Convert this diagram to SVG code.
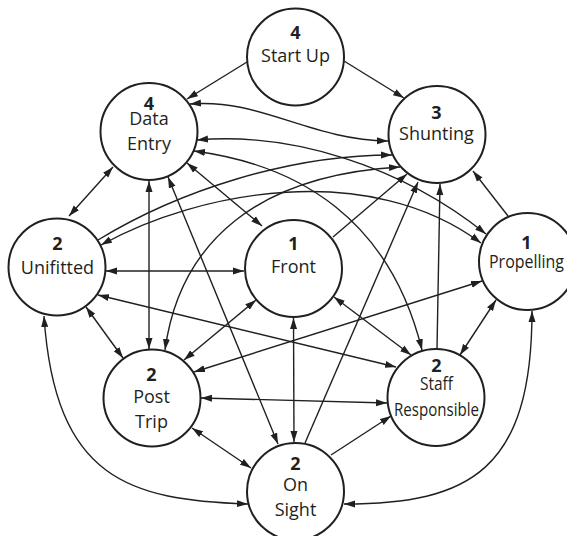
<svg xmlns="http://www.w3.org/2000/svg" width="567" height="536" viewBox="0 0 567 536">
<style>
.node circle{fill:#fff;stroke:#231f20;stroke-width:2}
.num{font-family:"Open Sans","Noto Sans",sans-serif;font-size:18px;font-weight:bold;fill:#231f20;text-anchor:middle}
.lbl{font-family:"Open Sans","Noto Sans",sans-serif;font-size:18px;fill:#231f20;text-anchor:middle}
#edges path{fill:none;stroke:#231f20;stroke-width:1.4}
.s{marker-end:url(#ah)}
.d{marker-start:url(#ah);marker-end:url(#ah)}
</style>
<defs>
<marker id="ah" markerUnits="userSpaceOnUse" markerWidth="12" markerHeight="8" refX="11" refY="4" orient="auto-start-reverse">
<path d="M0,0.5 L11,4 L0,7.5 z" fill="#231f20"/>
</marker>
</defs>
<rect width="567" height="536" fill="#fff"/>
<g id="node-startup" class="node"><circle cx="295.5" cy="57" r="48.5"/><text class="num" x="295.5" y="38.5">4</text><text class="lbl" x="295.5" y="62">Start Up</text></g>
<g id="node-dataentry" class="node"><circle cx="149" cy="131.5" r="48.5"/><text class="num" x="149" y="110">4</text><text class="lbl" x="149" y="125">Data</text><text class="lbl" x="149" y="150">Entry</text></g>
<g id="node-shunting" class="node"><circle cx="437" cy="134.5" r="48.5"/><text class="num" x="436.5" y="118.5">3</text><text class="lbl" x="436.5" y="140">Shunting</text></g>
<g id="node-unifitted" class="node"><circle cx="57" cy="267" r="48.5"/><text class="num" x="57.5" y="250">2</text><text class="lbl" x="57.5" y="274">Unifitted</text></g>
<g id="node-front" class="node"><circle cx="293.5" cy="268.5" r="48.5"/><text class="num" x="293.5" y="250">1</text><text class="lbl" x="293.5" y="272.5">Front</text></g>
<g id="node-propelling" class="node"><circle cx="527.5" cy="261.5" r="48.5"/><text class="num" x="526.5" y="249">1</text><text class="lbl" x="526.5" y="268" textLength="75" lengthAdjust="spacingAndGlyphs">Propelling</text></g>
<g id="node-staff" class="node"><circle cx="436" cy="397.5" r="48.5"/><text class="num" x="436.5" y="372">2</text><text class="lbl" x="436.5" y="390" textLength="33" lengthAdjust="spacingAndGlyphs">Staff</text><text class="lbl" x="436.5" y="416" textLength="85" lengthAdjust="spacingAndGlyphs">Responsible</text></g>
<g id="node-posttrip" class="node"><circle cx="152" cy="398" r="48.5"/><text class="num" x="151.5" y="381">2</text><text class="lbl" x="151.5" y="403">Post</text><text class="lbl" x="151.5" y="427.5">Trip</text></g>
<g id="node-onsight" class="node"><circle cx="295.5" cy="491.5" r="48.5"/><text class="num" x="295.5" y="470">2</text><text class="lbl" x="295.5" y="491">On</text><text class="lbl" x="295.5" y="516">Sight</text></g>
<g id="edges">
<path class="s" d="M247,62 L187,99"/>
<path class="s" d="M344,61 L404,98"/>
<path class="d" d="M113,167 L69,216"/>
<path class="d" d="M187,163 L262,226"/>
<path class="d" d="M149,181 L149,349"/>
<path class="d" d="M168,177 L278,444"/>
<path class="d" d="M106,271 L244,271"/>
<path class="d" d="M86,307 L123,358"/>
<path class="d" d="M44,316 C55,480 130,500 248,504"/>
<path class="d" d="M98,295 L396,367"/>
<path class="d" d="M184,360 L256,300"/>
<path class="d" d="M194,372 L482,281"/>
<path class="d" d="M201,398 L387,403"/>
<path class="d" d="M192,428 L251,468"/>
<path class="d" d="M293.5,318 L294,442"/>
<path class="d" d="M334,297 L411,355"/>
<path class="s" d="M331,455 L391,416"/>
<path class="s" d="M305,443 L418,182"/>
<path class="s" d="M333,237 L407,174"/>
<path class="s" d="M437,349 L440,184"/>
<path class="s" d="M508,216 L473,171"/>
<path class="d" d="M460,355 L496,300"/>
<path class="d" d="M344,504 C470,504 532,470 532,311"/>
<path class="d" d="M190,104 C260,98 310,140 388,141"/>
<path class="d" d="M197,140 C290,132 400,165 486,234"/>
<path class="d" d="M194,151 C300,165 390,220 422,350"/>
<path class="s" d="M98,240 C180,190 290,155 392,155"/>
<path class="d" d="M101,245 C200,190 370,160 481,243"/>
<path class="d" d="M165,350 C180,240 260,175 400,167"/>
</g>
</svg>
